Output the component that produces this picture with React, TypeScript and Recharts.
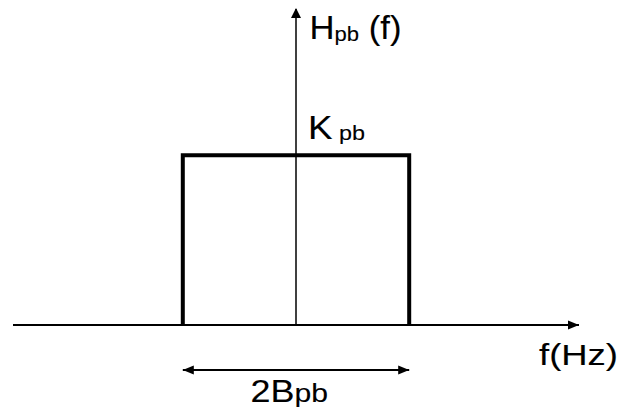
import { LineChart, Line, XAxis, YAxis, ReferenceLine, ReferenceDot } from "recharts";

// ideal low-pass response: K_pb between -B_pb and +B_pb, zero elsewhere
const freq = [-1, -1, 1, 1];
const gain = [0, 1, 1, 0];

const xDomain = [-2.5, 2.5];
const yDomain = [-0.5, 1.86];
const bandY = -0.265;

const labelH = ["H", "pb", " (f)"];
const labelK = ["K", " pb"];
const labelF = "f(Hz)";
const labelB = ["2B", "pb"];

const data = freq.map((f, i) => ({ f, h: gain[i] }));

const arrowRight = (p: any) => (
  <path d={`M${p.cx},${p.cy} L${p.cx - 11},${p.cy - 4.5} L${p.cx - 11},${p.cy + 4.5} Z`} fill="#000" />
);
const arrowLeft = (p: any) => (
  <path d={`M${p.cx},${p.cy} L${p.cx + 11},${p.cy - 4.5} L${p.cx + 11},${p.cy + 4.5} Z`} fill="#000" />
);
const arrowUp = (p: any) => (
  <path d={`M${p.cx},${p.cy - 1} L${p.cx - 5},${p.cy + 9} L${p.cx + 5},${p.cy + 9} Z`} fill="#000" />
);

const font = "'Liberation Sans', Arial, sans-serif";

export default function App() {
  return (
    <div style={{ position: "absolute", left: 0, top: 0, width: 620, height: 412, background: "#fff" }}>
      <LineChart width={620} height={412} data={data} margin={{ top: 9, right: 41, bottom: 2, left: 13 }}>
        <XAxis type="number" dataKey="f" domain={xDomain} hide />
        <YAxis type="number" domain={yDomain} hide />
        <ReferenceLine y={0} stroke="#000" strokeWidth={2} />
        <ReferenceLine segment={[{ x: 0, y: 0 }, { x: 0, y: yDomain[1] }]} stroke="#000" strokeWidth={1.5} />
        <ReferenceLine segment={[{ x: -1, y: bandY }, { x: 1, y: bandY }]} stroke="#000" strokeWidth={2} />
        <ReferenceDot x={xDomain[1]} y={0} shape={arrowRight} />
        <ReferenceDot x={0} y={yDomain[1]} shape={arrowUp} />
        <ReferenceDot x={-1} y={bandY} shape={arrowLeft} />
        <ReferenceDot x={1} y={bandY} shape={arrowRight} />
        <Line
          type="linear"
          dataKey="h"
          stroke="#000"
          strokeWidth={4}
          strokeLinejoin="miter"
          dot={false}
          isAnimationActive={false}
        />
        <g fontFamily={font} fill="#000" stroke="#000" strokeWidth={0.12}>
          <text x={309.5} y={39} textLength={92} lengthAdjust="spacingAndGlyphs">
            <tspan fontSize={33}>{labelH[0]}</tspan>
            <tspan fontSize={21} dy={2}>{labelH[1]}</tspan>
            <tspan fontSize={33} dy={-2}>{labelH[2]}</tspan>
          </text>
          <text x={308} y={138.5} textLength={57} lengthAdjust="spacingAndGlyphs">
            <tspan fontSize={33}>{labelK[0]}</tspan>
            <tspan fontSize={21} dy={1}>{labelK[1]}</tspan>
          </text>
          <text x={539} y={364.5} fontSize={30} textLength={79} lengthAdjust="spacingAndGlyphs">
            {labelF}
          </text>
          <text x={250.5} y={402} textLength={77.5} lengthAdjust="spacingAndGlyphs">
            <tspan fontSize={31}>{labelB[0]}</tspan>
            <tspan fontSize={26}>{labelB[1]}</tspan>
          </text>
        </g>
      </LineChart>
    </div>
  );
}
